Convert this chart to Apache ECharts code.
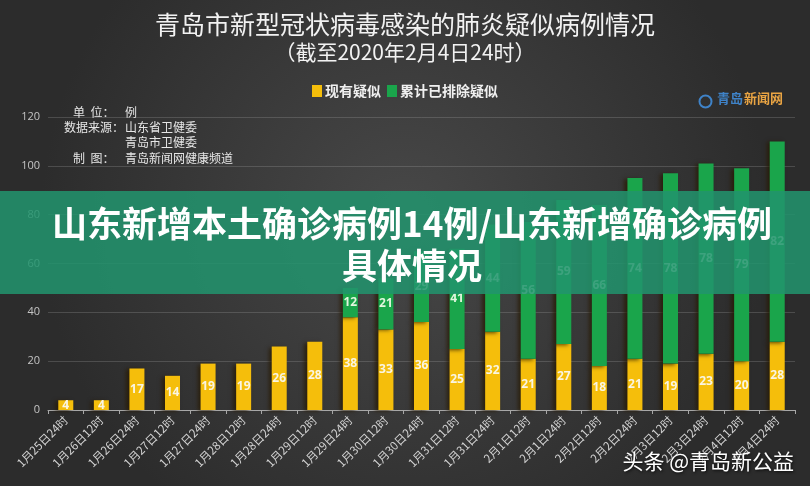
<!DOCTYPE html>
<html>
<head>
<meta charset="utf-8">
<script src="https://cdn.jsdelivr.net/npm/echarts@6/dist/echarts.min.js"></script>
<style>
  html,body{margin:0;padding:0;background:#2f2f2f}
  #chart{width:810px;height:486px}
</style>
</head>
<body>
<div id="chart"></div>
<script>
// categories along the x axis
var categories = [
  '1月25日24时','1月26日12时','1月26日24时','1月27日12时','1月27日24时',
  '1月28日12时','1月28日24时','1月29日12时','1月29日24时','1月30日12时',
  '1月30日24时','1月31日12时','1月31日24时','2月1日12时','2月1日24时',
  '2月2日12时','2月2日24时','2月3日12时','2月3日24时','2月4日12时','2月4日24时'
];
// 现有疑似
var current = [4,4,17,14,19,19,26,28,38,33,36,25,32,21,27,18,21,19,23,20,28];
// 累计已排除疑似 (0 = no bar)
var excluded = [0,0,0,0,0,0,0,0,12,21,29,41,44,56,59,66,74,78,78,79,82];

var legendNames = ['现有疑似','累计已排除疑似'];
var yTicks = {min:0, max:120, interval:20};

var CJK = '"Noto Sans CJK SC", "Noto Sans", sans-serif';

var chart = echarts.init(document.getElementById('chart'));

var barShadow = {shadowColor:'rgba(40,25,0,0.75)', shadowBlur:4, shadowOffsetX:-3, shadowOffsetY:1};

chart.setOption({
  backgroundColor: {
    type:'radial', x:0.5, y:0.45, r:0.75,
    colorStops:[{offset:0,color:'#484848'},{offset:1,color:'#2c2c2c'}]
  },
  title: [{
    text:'青岛市新型冠状病毒感染的肺炎疑似病例情况',
    left:'center', top:7,
    textStyle:{color:'#f2f2f2', fontSize:25, fontWeight:'normal', fontFamily:CJK}
  },{
    text:'（截至2020年2月4日24时）',
    left:'center', top:37,
    textStyle:{color:'#f2f2f2', fontSize:21, fontWeight:'normal', fontFamily:CJK}
  }],
  legend: {
    data: legendNames,
    top:79, left:'center',
    itemWidth:10, itemHeight:12, itemGap:6,
    icon:'rect',
    textStyle:{color:'#f0f0f0', fontSize:14, fontWeight:'bold', fontFamily:CJK, padding:[0,0,0,-2]}
  },
  grid: {left:48, right:15, top:117, bottom:76},
  xAxis: {
    type:'category',
    data: categories,
    axisLine:{lineStyle:{color:'#a8a8a8', width:1}},
    axisTick:{show:true, length:4, lineStyle:{color:'#a8a8a8'}},
    axisLabel:{rotate:45, interval:0, color:'#d2d2d2', fontSize:11.5, fontFamily:CJK, margin:8}
  },
  yAxis: {
    type:'value',
    min:yTicks.min, max:yTicks.max, interval:yTicks.interval,
    axisLine:{show:false}, axisTick:{show:false},
    axisLabel:{color:'#c4c4c4', fontSize:11, fontFamily:'"Open Sans", sans-serif', margin:8},
    splitLine:{lineStyle:{color:'rgba(160,160,160,0.28)', width:1}}
  },
  series: [{
    name: legendNames[0],
    type:'bar', stack:'all', barWidth:15,
    data: current,
    itemStyle: Object.assign({color:'#f5be0b'}, barShadow),
    label:{show:true, position:'inside', color:'#faf5e2', fontSize:12, fontWeight:'bold', fontFamily:'"Open Sans", sans-serif'}
  },{
    name: legendNames[1],
    type:'bar', stack:'all', barWidth:15,
    data: excluded.map(function(v){ return v === 0 ? null : v; }),
    itemStyle: Object.assign({color:'#1aa54b'}, barShadow),
    label:{show:true, position:'inside', color:'#e2f6df', fontSize:12, fontWeight:'bold', fontFamily:'"Open Sans", sans-serif'}
  }],
  graphic: [
    // info block top-left
    {type:'text', left:73, top:106, style:{text:'单  位：', fill:'#e6e6e6', font:'12px '+CJK}},
    {type:'text', left:125, top:106, style:{text:'例', fill:'#e6e6e6', font:'12px '+CJK}},
    {type:'text', left:64, top:121, style:{text:'数据来源：', fill:'#e6e6e6', font:'12px '+CJK}},
    {type:'text', left:125, top:121, style:{text:'山东省卫健委', fill:'#e6e6e6', font:'12px '+CJK}},
    {type:'text', left:125, top:136, style:{text:'青岛市卫健委', fill:'#e6e6e6', font:'12px '+CJK}},
    {type:'text', left:73, top:152, style:{text:'制  图：', fill:'#e6e6e6', font:'12px '+CJK}},
    {type:'text', left:125, top:152, style:{text:'青岛新闻网健康频道', fill:'#e6e6e6', font:'12px '+CJK}},
    // logo top-right
    {type:'circle', left:697, top:93, shape:{r:6}, style:{fill:'none', stroke:'#3f83c8', lineWidth:2}},
    {type:'text', left:717, top:92, style:{text:'青岛', fill:'#3f83c8', font:'bold 13px '+CJK}},
    {type:'text', left:744, top:92, style:{text:'新闻网', fill:'#e9a443', font:'bold 13px '+CJK}},
    // green banner overlay
    {type:'rect', left:0, top:191, z:100, shape:{width:810, height:103}, style:{fill:'rgba(34,148,110,0.86)'}},
    {type:'text', x:412, y:203, z:101, style:{
      text:'山东新增本土确诊病例14例/山东新增确诊病例\n具体情况',
      fill:'#ffffff', font:'bold 35px '+CJK, align:'center', verticalAlign:'top', lineHeight:42
    }},
    // watermark bottom-right
    {type:'text', right:16, top:451, z:101, style:{
      text:'头条 @青岛新公益', fill:'#ffffff', font:'21px '+CJK,
      textShadowColor:'rgba(0,0,0,0.8)', textShadowBlur:3, textShadowOffsetX:1, textShadowOffsetY:1
    }}
  ]
});
</script>
</body>
</html>
